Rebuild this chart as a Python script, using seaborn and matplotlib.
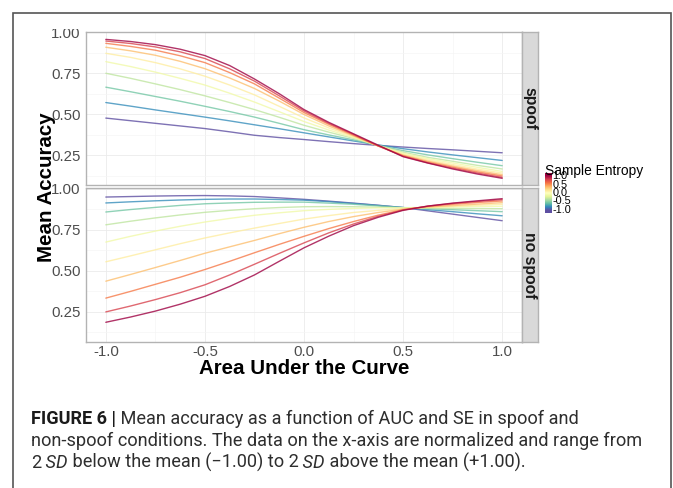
import numpy as np
import pandas as pd
import matplotlib
matplotlib.use("Agg")
import matplotlib.pyplot as plt
from matplotlib.patches import Rectangle
import seaborn as sns

# ---------------- data ----------------
auc = [-1.0, -0.875, -0.75, -0.625, -0.5, -0.375, -0.25, -0.125, 0.0,
       0.125, 0.25, 0.375, 0.5, 0.625, 0.75, 0.875, 1.0]
se_levels = [-1.0, -0.78, -0.56, -0.33, -0.11, 0.11, 0.33, 0.56, 0.78, 1.0]

# one row per sample-entropy level (low -> high), values along auc
spoof_acc = [
    [.476, .460, .444, .428, .412, .392, .371, .357, .345, .332, .320, .309, .299, .290, .282, .273, .264],
    [.571, .549, .526, .504, .482, .459, .435, .411, .386, .361, .336, .312, .289, .269, .251, .234, .217],
    [.665, .637, .608, .579, .548, .516, .482, .444, .405, .373, .343, .309, .277, .251, .228, .206, .185],
    [.750, .719, .685, .650, .612, .571, .528, .481, .432, .390, .352, .309, .268, .236, .212, .187, .165],
    [.821, .791, .757, .719, .678, .628, .574, .515, .455, .403, .357, .307, .262, .228, .202, .175, .150],
    [.872, .847, .815, .777, .732, .678, .618, .548, .477, .416, .362, .306, .256, .220, .192, .164, .140],
    [.909, .887, .860, .823, .778, .721, .657, .580, .498, .428, .367, .305, .250, .213, .183, .155, .130],
    [.933, .914, .891, .857, .815, .754, .685, .598, .510, .438, .372, .305, .246, .207, .176, .147, .122],
    [.947, .932, .911, .881, .840, .777, .702, .612, .520, .444, .376, .306, .243, .202, .170, .140, .114],
    [.957, .944, .925, .897, .858, .797, .715, .625, .528, .450, .380, .310, .240, .201, .165, .134, .108],
]
nospoof_acc = [
    [.949, .952, .955, .957, .958, .956, .952, .944, .935, .924, .912, .899, .885, .865, .845, .825, .805],
    [.913, .920, .926, .931, .935, .937, .937, .934, .930, .921, .910, .898, .885, .872, .860, .847, .835],
    [.858, .873, .886, .898, .908, .913, .917, .918, .918, .912, .905, .895, .885, .878, .872, .866, .860],
    [.780, .802, .822, .840, .856, .868, .878, .885, .890, .891, .890, .887, .883, .881, .880, .879, .878],
    [.675, .710, .742, .771, .797, .819, .838, .853, .866, .874, .880, .883, .884, .886, .889, .891, .893],
    [.555, .591, .628, .665, .700, .731, .760, .788, .815, .836, .855, .868, .878, .886, .892, .899, .905],
    [.437, .478, .520, .563, .607, .646, .685, .726, .765, .800, .830, .855, .875, .888, .897, .906, .915],
    [.334, .375, .418, .461, .508, .558, .610, .661, .710, .757, .800, .839, .872, .892, .905, .916, .925],
    [.250, .286, .325, .367, .415, .475, .540, .606, .670, .731, .785, .832, .870, .894, .910, .922, .933],
    [.187, .219, .255, .297, .345, .405, .475, .558, .640, .711, .775, .826, .868, .894, .912, .926, .939],
]
panels = ["spoof", "no spoof"]
x_ticks = [-1.0, -0.5, 0.0, 0.5, 1.0]
x_tick_labels = ["-1.0", "-0.5", "0.0", "0.5", "1.0"]
y_ticks = [0.25, 0.50, 0.75, 1.00]
y_tick_labels = ["0.25", "0.50", "0.75", "1.00"]
legend_ticks = [1.0, 0.5, 0.0, -0.5, -1.0]
legend_labels = ["1.0", "0.5", "0.0", "-0.5", "-1.0"]

caption_lines = [
    [("FIGURE 6 |", "b"), (" Mean accuracy as a function of AUC and SE in spoof and", "n")],
    [("non-spoof conditions. The data on the x-axis are normalized and range from", "n")],
    [("2", "n"), (" SD", "i"), (" below the mean (\u22121.00) to 2", "n"), (" SD", "i"),
     (" above the mean (+1.00).", "n")],
]

rows = []
for cond, mat in zip(panels, (spoof_acc, nospoof_acc)):
    for se, vals in zip(se_levels, mat):
        for a, v in zip(auc, vals):
            rows.append(dict(condition=cond, AUC=a, SE=se, acc=v))
df = pd.DataFrame(rows)

# ---------------- style ----------------
sns.set_theme(style="white")
plt.rcParams["font.family"] = ["Liberation Sans", "DejaVu Sans"]

W, H = 673, 488
fig = plt.figure(figsize=(W / 100, H / 100), dpi=100)
fig.patch.set_facecolor("white")


def rect(x0, y0, x1, y1):
    return [x0 / W, 1 - y1 / H, (x1 - x0) / W, (y1 - y0) / H]


BORDER = "#B3B3B3"
panel_px = [(31.7, 185.0), (188.0, 342.0)]
axes = []
for (y0, y1), cond in zip(panel_px, panels):
    ax = fig.add_axes(rect(86, y0, 522, y1))
    sns.lineplot(data=df[df.condition == cond], x="AUC", y="acc", hue="SE",
                 palette="Spectral_r", hue_norm=(-1, 1), legend=False,
                 errorbar=None, ax=ax, lw=1.0, alpha=0.8)
    ax.set_xlim(-1.1, 1.1)
    ax.set_ylim(0.067, 1.004)
    ax.set_xticks(x_ticks)
    ax.set_xticks([-0.75, -0.25, 0.25, 0.75], minor=True)
    ax.set_yticks(y_ticks)
    ax.set_yticks([0.125, 0.375, 0.625, 0.875], minor=True)
    ax.set_yticklabels(y_tick_labels)
    ax.grid(which="major", color="#EBEBEB", lw=0.6)
    ax.grid(which="minor", color="#F5F5F5", lw=0.5)
    ax.set_axisbelow(True)
    for s in ax.spines.values():
        s.set_color(BORDER)
        s.set_linewidth(1.0)
    ax.tick_params(which="major", length=3, width=0.8, color=BORDER,
                   labelsize=10.8, labelcolor="#4D4D4D", pad=1)
    ax.tick_params(which="minor", length=0)
    ax.set_xlabel("")
    ax.set_ylabel("")
    axes.append(ax)

axes[0].tick_params(axis="x", length=0, labelbottom=False)
axes[1].set_xticklabels(x_tick_labels)
axes[1].tick_params(axis="x", pad=-1.2)

# facet strips
for (y0, y1), cond in zip(panel_px, panels):
    sax = fig.add_axes(rect(522, y0, 538, y1))
    sax.set_facecolor("#D9D9D9")
    sax.set_xticks([])
    sax.set_yticks([])
    for s in sax.spines.values():
        s.set_color(BORDER)
        s.set_linewidth(1.0)
    sax.text(0.5, 0.5, cond, rotation=270, ha="center", va="center",
             fontweight="bold", fontsize=11.3, color="#1A1A1A",
             transform=sax.transAxes)

# axis titles
fig.text(304 / W, 1 - 373.5 / H, "Area Under the Curve", ha="center", va="baseline",
         fontweight="bold", fontsize=14.8, color="black")
fig.text(51.5 / W, 1 - 187 / H, "Mean Accuracy", ha="center", va="baseline",
         rotation=90, rotation_mode="anchor", fontweight="bold", fontsize=14.8,
         color="black")

# colour legend
cax = fig.add_axes(rect(545, 173, 551.5, 213))
grad = np.linspace(-1.15, 1.15, 256).reshape(-1, 1)
cax.imshow(grad, aspect="auto", cmap="Spectral_r", origin="lower",
           extent=[0, 1, -1.15, 1.15], vmin=-1, vmax=1)
cax.set_xticks([])
cax.set_yticks([])
for s in cax.spines.values():
    s.set_visible(False)
fig.text(545 / W, 1 - 175 / H, "Sample Entropy", ha="left", va="baseline",
         fontsize=9.9, color="black")
for v, lab in zip(legend_ticks, legend_labels):
    fig.text(552.5 / W, 1 - (193 - 17 * v) / H, lab, ha="left", va="center",
             fontsize=7.8, color="black")

# clip the top of the "1.00" label as in the reference
fig.add_artist(Rectangle((40 / W, 1 - 29.3 / H), 45 / W, 15 / H, transform=fig.transFigure,
                         facecolor="white", edgecolor="none", zorder=5))

# outer frame
fig.add_artist(Rectangle((13 / W, -0.1), (670.5 - 13) / W, 1 - 12.7 / H + 0.1,
                         transform=fig.transFigure, fill=False,
                         edgecolor="#555555", lw=1.2, zorder=6, clip_on=False))

# caption
renderer = fig.canvas.get_renderer()
CAP_COLOR = "#2E2E2E"
CAP_FAMILY = ["Roboto", "DejaVu Sans"]


def text_kw(style, size):
    kw = dict(fontsize=size, family=CAP_FAMILY, color=CAP_COLOR, fontweight="normal")
    if style == "b":
        kw["fontweight"] = "bold"
        kw["color"] = "#1A1A1A"
    if style == "i":
        kw["fontstyle"] = "italic"
    return kw


def draw_runs(runs, x_px, base_px, size, keep=True):
    x = x_px
    made = []
    for txt, style in runs:
        t = fig.text(x / W, 1 - base_px / H, txt, ha="left", va="baseline",
                     **text_kw(style, size))
        x += t.get_window_extent(renderer=renderer).width
        made.append(t)
    if not keep:
        for t in made:
            t.remove()
    return x - x_px


probe = draw_runs(caption_lines[1], 31, 446, 12.0, keep=False)
cap_size = 12.0 * 609.0 / probe
for runs, base in zip(caption_lines, [424.3, 445.8, 467.6]):
    draw_runs(runs, 31, base, cap_size)

fig.savefig("out.png", dpi=100, facecolor="white")
